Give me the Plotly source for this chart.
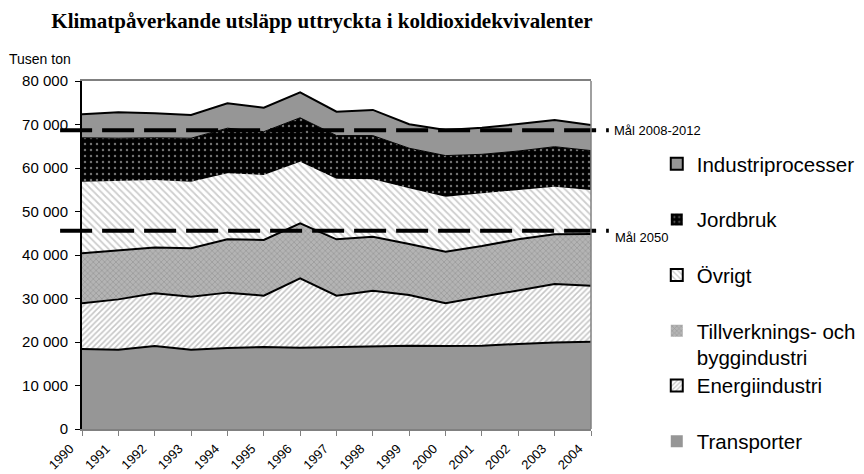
#!/bin/env python
"""
Stacked area chart of Swedish greenhouse gas emissions by sector, 1990-2004,
with the dashed target lines for 2008-2012 and 2050.
"""
import plotly.graph_objects as go

years = list(range(1990, 2005))

# thousand tonnes CO2-equivalents per sector (bottom of the stack first)
transporter = [18400, 18200, 19100, 18200, 18600, 18850, 18650, 18800,
               18900, 19150, 19100, 19150, 19550, 19900, 20050]
energiindustri = [10500, 11600, 12100, 12200, 12750, 11800, 16000, 11850,
                  12900, 11650, 9800, 11250, 12400, 13450, 12900]
tillverkning = [11500, 11350, 10550, 11150, 12250, 12800, 12650, 12950,
                12400, 11750, 11850, 11650, 11650, 11400, 11850]
ovrigt = [16450, 15950, 15500, 15300, 15200, 14950, 14150, 13950,
          13200, 12800, 12650, 12150, 11350, 10950, 10150]
jordbruk = [10100, 9750, 9700, 10000, 10350, 9950, 10100, 9900,
            10050, 9200, 9450, 8950, 8950, 9200, 9050]
industriprocesser = [5400, 5950, 5650, 5350, 5750, 5500, 5850, 5500,
                     5900, 5500, 5900, 6100, 6200, 6150, 5900]

mal_2008_2012 = 68700
mal_2050 = 45600

title_text = "Klimatpåverkande utsläpp uttryckta i koldioxidekvivalenter"
font_sans = "Arial, Liberation Sans, sans-serif"
gray = "#969696"

# the page puts an 8px body margin round the figure, so the margins are
# 8px smaller on the top/left to land the plot area where it should be
fig_width = 864
fig_height = 474

# name, values, pattern, edge line width, legend, legend border
series = [
    ("Transporter", transporter,
     dict(shape="", fgcolor=gray, bgcolor=gray), 2, "legend2", 0),
    ("Energiindustri", energiindustri,
     dict(shape="/", fgcolor="#8e8e8e", bgcolor="white", size=4, solidity=0.4), 2, "legend2", 2),
    ("Tillverknings- och<br>byggindustri", tillverkning,
     dict(shape="x", fgcolor="#868686", bgcolor="#b4b4b4", size=4, solidity=0.4), 2, "legend", 0),
    ("Övrigt", ovrigt,
     dict(shape="\\", fgcolor="#9c9c9c", bgcolor="white", size=5, solidity=0.35), 0, "legend", 2),
    ("Jordbruk", jordbruk,
     dict(shape=".", fgcolor="#e0e0e0", bgcolor="black", size=6, solidity=0.13), 1, "legend", 0),
    ("Industriprocesser", industriprocesser,
     dict(shape="", fgcolor=gray, bgcolor=gray), 2, "legend", 2),
]

fig = go.Figure()

for name, values, pattern, edge, legend, border in series:
    fig.add_trace(
        go.Scatter(
            x=years,
            y=values,
            name=name,
            stackgroup="utslapp",
            mode="lines",
            line=dict(color="black", width=edge),
            fillcolor=pattern["bgcolor"],
            fillpattern=pattern,
            showlegend=False,
            hoverinfo="skip",
        )
    )

# square swatches for the legend, top entry first
for rank, (name, values, pattern, edge, legend, border) in enumerate(reversed(series)):
    fig.add_trace(
        go.Bar(
            x=[None],
            y=[None],
            name=name,
            legend=legend,
            legendgroup=name,
            legendrank=rank + 1,
            marker=dict(
                color=pattern["bgcolor"],
                pattern=pattern,
                line=dict(color="black", width=border),
            ),
        )
    )

for target in (mal_2008_2012, mal_2050):
    fig.add_shape(
        type="line",
        xref="paper",
        yref="y",
        x0=-0.043,
        x1=1.035,
        y0=target,
        y1=target,
        line=dict(color="black", width=4, dash="32px,10px"),
        layer="above",
    )

fig.add_annotation(
    text="Mål 2008-2012", xref="paper", yref="y", x=1.041, y=mal_2008_2012,
    xanchor="left", yanchor="middle", showarrow=False,
    font=dict(family=font_sans, size=13, color="black"),
)
fig.add_annotation(
    text="Mål 2050", xref="paper", yref="y", x=1.043, y=mal_2050,
    xanchor="left", yanchor="middle", yshift=-7, showarrow=False,
    font=dict(family=font_sans, size=13, color="black"),
)
fig.add_annotation(
    text="Tusen ton", xref="paper", yref="paper", x=-0.147, y=1.062,
    xanchor="left", yanchor="middle", showarrow=False,
    font=dict(family=font_sans, size=14, color="black"),
)

legend_style = dict(
    font=dict(family=font_sans, size=20.5, color="black"),
    traceorder="grouped",
    tracegroupgap=26,
    valign="top",
    bgcolor="rgba(0,0,0,0)",
    xanchor="left",
    yanchor="top",
    x=1.127,
)

fig.update_layout(
    width=fig_width,
    height=fig_height,
    margin=dict(l=74, r=280, t=73, b=53),
    paper_bgcolor="white",
    plot_bgcolor="white",
    separators=", ",
    title=dict(
        text=title_text,
        font=dict(family="Times New Roman, Liberation Serif, serif", size=21,
                  color="black", weight="bold"),
        xref="container",
        x=314 / fig_width,
        xanchor="center",
        y=1 - 13 / fig_height,
        yanchor="middle",
    ),
    legend=dict(y=0.819, **legend_style),
    legend2=dict(y=0.182, **legend_style),
    xaxis=dict(
        range=[1990, 2004],
        tickvals=years,
        tickangle=-45,
        ticks="outside",
        ticklen=5,
        tickcolor="#808080",
        showline=True,
        linecolor="#808080",
        linewidth=2,
        mirror=True,
        showgrid=False,
        zeroline=False,
        automargin=False,
        ticklabelshift=-12,
        ticklabelstandoff=0,
        tickfont=dict(family=font_sans, size=13, color="black"),
    ),
    yaxis=dict(
        range=[0, 80000],
        dtick=10000,
        tickformat=",d",
        ticks="outside",
        ticklen=5,
        tickcolor="black",
        showline=True,
        linecolor="black",
        linewidth=2,
        showgrid=False,
        zeroline=False,
        automargin=False,
        ticklabelstandoff=4,
        tickfont=dict(family=font_sans, size=15, color="black"),
    ),
)

# thin frame on the right side of the plot area
fig.add_shape(type="line", xref="paper", yref="paper", x0=1, x1=1, y0=0, y1=1,
              line=dict(color="#808080", width=1.5), layer="above")

fig.write_html("out.html")
